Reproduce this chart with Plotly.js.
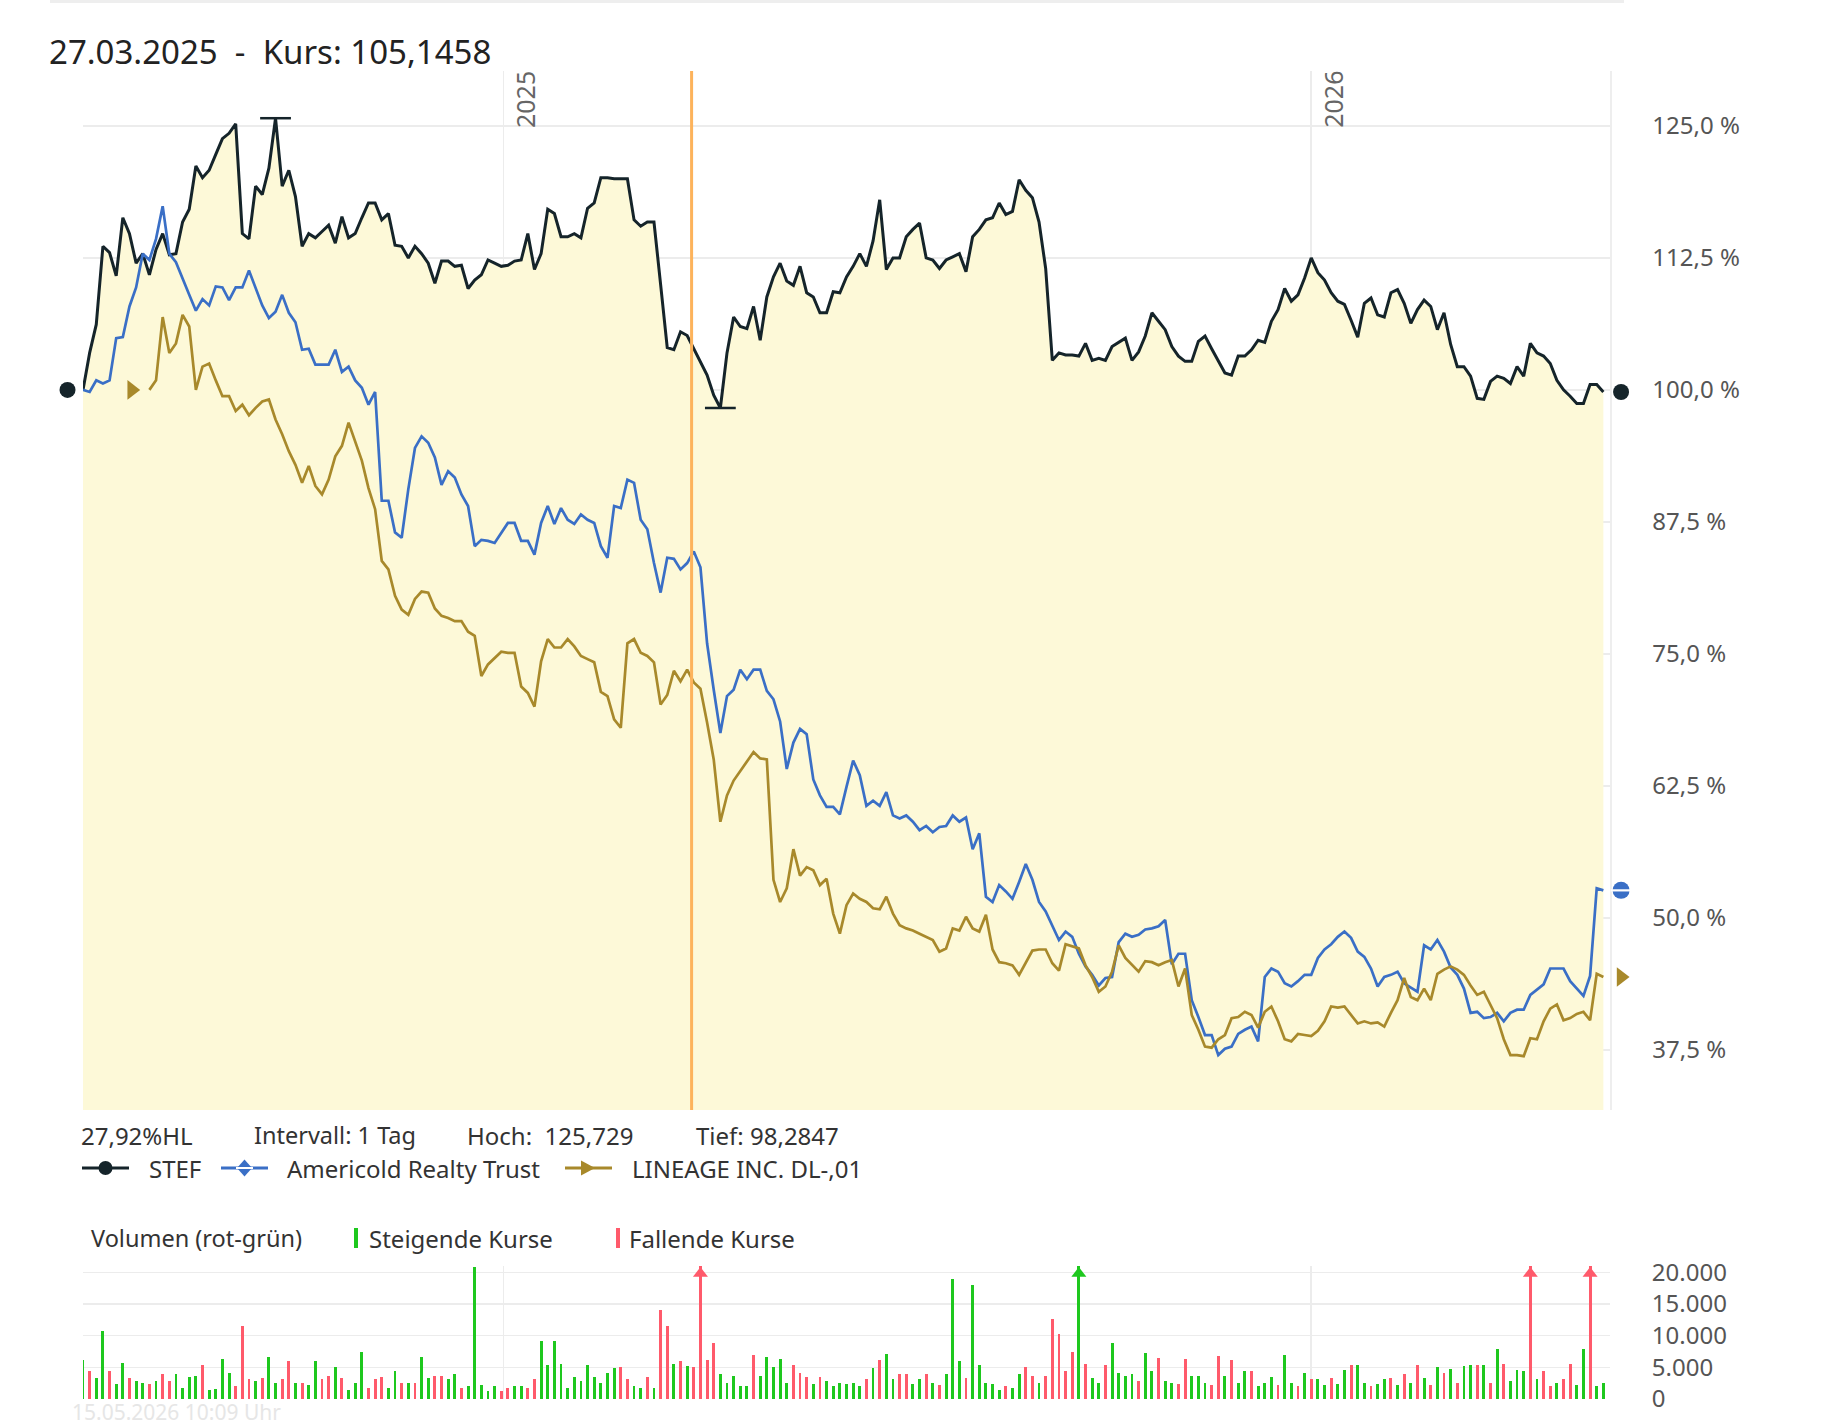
<!DOCTYPE html>
<html><head><meta charset="utf-8">
<script src="https://cdn.plot.ly/plotly-3.0.1.min.js"></script>
<style>html,body{margin:0;padding:0;background:#fff}#chart{width:1826px;height:1426px}</style>
</head><body><div id="chart"></div>
<script>
// ---------- data ----------
const startDate = [2024, 5, 25];   // 25.06.2024 (month 0-based)
const stepDays = 3;

const stef = [
100.0,103.5,106.2,113.6,113.0,110.8,116.3,114.8,112.0,112.9,
110.9,113.3,114.8,112.8,112.9,115.9,117.1,121.2,120.1,120.8,
122.3,123.8,124.3,125.2,114.8,114.3,119.3,118.5,121.0,125.729,
119.3,120.8,118.3,113.6,114.8,114.4,115.0,115.6,113.9,116.4,
114.4,114.8,116.3,117.7,117.7,116.1,116.7,113.7,113.6,112.5,
113.6,112.9,112.0,110.1,112.2,112.2,111.7,111.8,109.6,110.4,
110.9,112.3,112.0,111.7,111.8,112.2,112.3,114.8,111.4,112.9,
117.1,116.7,114.5,114.5,114.8,114.4,117.2,117.7,120.1,120.1,
120.0,120.0,120.0,116.1,115.5,115.9,115.9,110.0,104.0,103.8,
105.5,105.1458,103.9,102.8,101.4,99.5,98.2847,103.5,106.9,106.0,
105.8,107.9,104.7,108.8,110.7,112.0,110.3,109.9,111.7,109.2,
108.8,107.3,107.3,109.3,109.2,110.7,111.7,112.9,111.7,114.1,
118.0,111.4,112.5,112.5,114.5,115.2,115.8,112.5,112.3,111.5,
112.3,112.6,112.9,111.2,114.5,115.2,116.1,116.3,117.7,116.6,
116.9,119.9,118.9,118.2,115.9,111.5,102.8,103.5,103.3,103.3,
103.2,104.4,102.8,103.0,102.8,104.1,104.5,104.9,102.8,103.6,
105.1,107.3,106.5,105.7,104.1,103.2,102.7,102.7,104.6,105.1,
103.9,102.7,101.6,101.4,103.2,103.2,103.8,104.7,104.5,106.5,
107.6,109.6,108.4,109.0,110.6,112.5,111.1,110.4,109.2,108.4,
108.1,106.6,105.0,108.2,108.7,107.1,106.9,109.2,109.5,108.2,
106.3,107.6,108.5,107.9,105.7,107.3,104.3,102.2,102.2,101.3,
99.2,99.1,100.8,101.3,101.1,100.6,102.2,101.3,104.4,103.5,
103.2,102.5,100.9,100.0,99.4,98.7,98.7,100.5,100.5,99.8
];

const americold = [
100.0,99.8,100.9,100.6,100.9,104.9,105.0,107.9,109.7,112.9,
112.3,114.3,117.4,112.9,112.1,110.5,109.0,107.5,108.6,108.0,
109.8,109.7,108.5,109.7,109.7,111.3,109.7,108.0,106.8,107.4,
109.0,107.3,106.4,103.8,103.9,102.4,102.4,102.4,103.8,101.7,
102.2,100.9,100.2,98.6,99.8,89.5,89.5,86.5,86.0,90.6,
94.5,95.6,95.0,93.6,91.0,92.3,91.7,90.1,89.0,85.2,
85.8,85.7,85.5,86.5,87.4,87.4,85.7,85.7,84.4,87.4,
89.0,87.3,88.8,87.7,87.3,88.2,87.7,87.4,85.2,84.1,
89.0,88.8,91.5,91.2,87.7,86.8,83.6,80.8,84.1,84.0,
83.0,83.6,84.7,83.2,76.0,71.6,67.5,71.0,71.6,73.5,
72.6,73.5,73.5,71.5,70.7,68.6,64.1,66.6,67.9,67.4,
63.1,61.6,60.5,60.5,59.8,62.4,64.9,63.5,60.6,61.1,
60.6,61.9,59.7,59.4,59.7,59.1,58.3,58.7,58.1,58.6,
58.7,59.7,59.1,59.5,56.5,58.0,52.0,51.5,53.1,52.5,
51.8,53.4,55.1,53.6,51.5,50.6,49.3,47.9,48.7,48.2,
46.6,45.4,44.6,43.6,44.3,44.4,47.7,48.5,48.2,48.4,
48.9,49.0,49.2,49.8,45.6,46.6,46.6,42.2,40.6,38.9,
38.9,37.0,37.6,37.8,39.0,39.4,39.7,38.3,44.4,45.2,
44.9,43.8,43.5,44.0,44.6,44.6,46.2,47.0,47.5,48.2,
48.7,48.1,46.8,46.3,45.2,43.5,44.4,44.6,44.9,43.8,
43.4,43.0,47.4,47.0,47.9,46.8,45.3,44.6,43.3,41.0,
41.1,40.5,40.6,41.0,40.2,41.0,41.3,41.3,42.7,43.2,
43.7,45.2,45.2,45.2,44.0,43.3,42.6,44.5,52.8,52.6
];

const lineage = [
null,null,null,null,null,null,null,null,null,null,
100.0,100.9,106.9,103.5,104.4,107.1,106.0,100.0,102.2,102.5,
100.9,99.4,99.4,98.0,98.6,97.6,98.3,98.9,99.1,97.2,
95.8,94.2,92.9,91.2,92.8,90.9,90.1,91.5,93.7,94.7,
96.9,95.0,93.3,90.7,88.7,83.8,83.0,80.5,79.2,78.7,
80.2,80.9,80.8,79.3,78.6,78.4,78.1,78.1,77.1,76.7,
72.9,74.0,74.6,75.2,75.1,75.1,71.9,71.3,70.0,74.3,
76.4,75.6,75.6,76.4,75.7,74.8,74.5,74.2,71.4,71.0,
68.8,68.0,76.0,76.4,75.1,74.8,74.2,70.2,71.1,73.4,
72.4,73.5,72.3,71.7,68.5,65.0,59.1,61.6,63.0,63.9,
64.9,65.7,65.1,65.0,53.6,51.5,52.8,56.5,54.0,54.8,
54.5,53.1,53.7,50.4,48.5,51.2,52.3,51.8,51.5,50.9,
50.8,52.0,50.4,49.3,49.0,48.8,48.5,48.2,47.9,46.8,
47.1,49.0,48.8,50.1,49.0,48.7,50.3,47.0,45.8,45.7,
45.5,44.6,45.8,46.9,47.0,47.0,45.7,45.0,47.5,47.3,
47.1,45.5,44.4,43.0,43.5,44.9,47.4,46.2,45.5,44.9,
45.9,45.8,45.5,45.8,46.0,43.5,45.2,40.8,39.4,37.8,
37.7,38.5,38.9,40.5,40.6,41.1,40.8,39.6,41.1,41.6,
40.2,38.5,38.3,39.0,38.9,38.8,39.3,40.2,41.6,41.5,
41.6,40.8,40.0,40.2,40.0,40.1,39.7,41.0,42.2,44.3,
42.5,42.2,43.3,42.2,44.7,45.1,45.4,45.1,44.6,43.6,
42.7,43.0,41.8,40.5,38.5,37.0,37.0,36.9,38.6,38.5,
40.2,41.4,41.8,40.3,40.5,40.9,41.1,40.3,44.7,44.4
];

const volume = [
6200,4400,3300,10700,4400,2300,5700,3300,2800,2500,
2300,2800,3900,2800,3900,1800,3500,3600,5300,1500,
1600,6300,4100,2000,11600,3100,2900,3300,6600,2500,
3100,6000,2500,2500,2200,6000,3100,3600,5000,3300,
1500,2500,7500,1700,3100,3400,1700,4400,2500,2600,
2500,6600,3300,3700,3600,3200,4000,1700,2000,20900,
2200,1200,2000,1200,1700,2000,2000,1700,3100,9100,
5300,9100,5600,1700,3500,2800,5300,3500,2500,4100,
4900,5100,3100,2000,1800,3400,1700,14100,11600,5600,
6000,5200,5100,26000,6200,8800,4000,2500,3700,2100,
2100,6900,3700,6600,5100,6300,2600,5300,4100,3400,
2300,3500,2800,2100,2500,2300,2500,2000,3100,4900,
6200,7100,3100,4000,3900,2300,3100,4000,2500,2200,
3900,18900,6000,3300,18000,5400,2500,2300,1500,2000,
1700,4000,5100,3700,2600,3600,12600,10300,4400,7500,
24000,5500,3300,2500,5300,8800,4100,3600,3900,2800,
7200,4400,6500,2800,2500,2300,6300,3600,3600,2500,
2200,6800,3600,6200,2500,4400,4400,2000,2500,3500,
2200,6900,2500,2000,4100,3100,3100,2200,3300,2300,
4600,5300,5300,2500,2000,2300,3100,3300,2200,3900,
2500,5300,3300,2200,5000,4100,4800,2500,5200,5400,
5400,5400,2600,7900,5600,2800,4600,4400,25000,3100,
4400,2000,2500,3100,5600,2200,7900,25000,2000,2500
];
// g = steigender Kurs, r = fallender Kurs
const volDir = "grggrggrgg" + "rgrrggggrg" + "gggrrrgrgg" + "rrgrggrrgr" + "gggrrrggrg" +
               "rggrrggrgg" + "gggrrggrrg" + "gggggggggg" + "grrggrgrrg" + "rgrrrrgggg" +
               "grgggggrrr" + "grggggggrg" + "rggrrggrgr" + "gggrgggggr" + "ggrrgrrrrr" +
               "grggrggggr" + "ggrggrrggg" + "rrgrggrggg" + "rggrgrggrg" + "grggrggrgr" +
               "grgrgrgrgg" + "rgrgrgggrg" + "rrgrrggrgg";

const yTicks = [37.5, 50, 62.5, 75, 87.5, 100, 112.5, 125];
const volTicks = [0, 5000, 10000, 15000, 20000];
const yearTicks = ['2025-01-01', '2026-01-01'];
const yearLabels = ['2025', '2026'];
const cursorDate = '2025-03-27';
const cursorLabel = '27.03.2025';
const seriesNames = ['STEF', 'Americold Realty Trust', 'LINEAGE INC. DL-,01'];
const stampText = '15.05.2026 10:09 Uhr';

// ---------- helpers ----------
const W = 1826, H = 1426;
const X = px => px / W;
const Y = py => 1 - py / H;
const DAY = 86400000;
const t0 = Date.UTC(startDate[0], startDate[1], startDate[2]);
const dateAt = n => new Date(t0 + n * DAY).toISOString().slice(0, 10);
const dates = stef.map((_, i) => dateAt(i * stepDays));
const vDates = volume.map((_, i) => dateAt(i * stepDays));
const last = stef.length - 1;
const de = v => String(v).replace('.', ',');
const fmtPct = v => v.toFixed(1).replace('.', ',') + ' %';
const fmtVol = v => String(v).replace(/\B(?=(\d{3})+(?!\d))/g, '.');

const C_STEF = '#15242a', C_AM = '#3a6fc6', C_LIN = '#a8892b';
const C_UP = '#1ec81e', C_DN = '#ff5a6b';

const maxV = Math.max(...stef), minV = Math.min(...stef);
const iMax = stef.indexOf(maxV), iMin = stef.indexOf(minV);
const hl = ((maxV - minV) / minV * 100).toFixed(2).replace('.', ',');
let iCur = 0; dates.forEach((d, i) => { if (d <= cursorDate) iCur = i; });
const linFirst = lineage.findIndex(v => v !== null);

// plot-area pixel geometry
const PX_L = 83, PX_R = 1610, PX_T = 71, PX_B = 1110;
const rangeStartMs = t0, rangeEndMs = t0 + (last * stepDays + 3) * DAY;
const xRange = [new Date(rangeStartMs).toISOString(), new Date(rangeEndMs).toISOString()];
const msPerPx = (rangeEndMs - rangeStartMs) / (PX_R - PX_L);
// wider overlay axis for the start/end markers which sit outside the plot area
const OV_L = 46, OV_R = 1646;
const xRangeOv = [new Date(rangeStartMs - (PX_L - OV_L) * msPerPx).toISOString(),
                  new Date(rangeEndMs + (OV_R - PX_R) * msPerPx).toISOString()];
const yRange = [31.8, 130.2];
const VOLMAX = 21000;
const endOff = last * stepDays + 8;

// ---------- traces ----------
const traces = [
  {x: dates, y: stef, type: 'scatter', mode: 'lines', line: {color: C_STEF, width: 3},
   fill: 'tozeroy', fillcolor: '#fdf9d8', xaxis: 'x', yaxis: 'y', hoverinfo: 'skip'},
  {x: dates, y: americold, type: 'scatter', mode: 'lines', line: {color: C_AM, width: 2.7},
   xaxis: 'x', yaxis: 'y', hoverinfo: 'skip'},
  {x: dates, y: lineage, type: 'scatter', mode: 'lines', line: {color: C_LIN, width: 2.7},
   xaxis: 'x', yaxis: 'y', hoverinfo: 'skip'},
  // high / low markers
  {x: [dates[iMax], dates[iMin]], y: [maxV, minV], type: 'scatter', mode: 'markers',
   marker: {symbol: 'line-ew', size: 22, line: {color: C_STEF, width: 2.5}}, xaxis: 'x', yaxis: 'y', hoverinfo: 'skip'},
  // start / end markers (overlay axis x3/y3)
  {x: [dateAt(-7), dateAt(endOff)], y: [stef[0], stef[last]], type: 'scatter', mode: 'markers',
   marker: {symbol: 'circle', size: 16, color: C_STEF}, xaxis: 'x3', yaxis: 'y3', hoverinfo: 'skip'},
  {x: [dateAt(endOff)], y: [americold[last]], type: 'scatter', mode: 'markers',
   marker: {symbol: 'circle', size: 17, color: C_AM}, xaxis: 'x3', yaxis: 'y3', hoverinfo: 'skip'},
  {x: [dateAt(endOff)], y: [americold[last]], type: 'scatter', mode: 'markers',
   marker: {symbol: 'line-ew', size: 15, line: {color: '#ffffff', width: 2.2}}, xaxis: 'x3', yaxis: 'y3', hoverinfo: 'skip'},
  {x: [dateAt(linFirst * stepDays - 8), dateAt(endOff)], y: [lineage[linFirst], lineage[last]],
   type: 'scatter', mode: 'markers', marker: {symbol: 'triangle-right', size: 17, color: C_LIN},
   xaxis: 'x3', yaxis: 'y3', hoverinfo: 'skip'},
  // volume
  {x: vDates, y: volume, type: 'bar', width: 1.3 * DAY,
   marker: {color: volDir.split('').map(c => c === 'g' ? C_UP : C_DN), line: {width: 0}},
   xaxis: 'x2', yaxis: 'y2', hoverinfo: 'skip'}
];
// arrows for clipped volume bars
const clipIdx = volume.map((v, i) => v > VOLMAX ? i : -1).filter(i => i >= 0);
traces.push({x: clipIdx.map(i => vDates[i]), y: clipIdx.map(() => VOLMAX * 0.943), type: 'scatter', mode: 'markers',
  marker: {symbol: 'triangle-up', size: 13, color: clipIdx.map(i => volDir[i] === 'g' ? C_UP : C_DN)},
  cliponaxis: false, xaxis: 'x2', yaxis: 'y2', hoverinfo: 'skip'});

// ---------- layout ----------
const FONT = 'Noto Sans, Open Sans, DejaVu Sans, sans-serif';
const xDom = [X(PX_L), X(PX_R)];
const mainDom = [Y(PX_B), Y(PX_T)];
const volDom = [Y(1399), Y(1266)];

function txt(text, px, py, o) {
  return Object.assign({text: text, xref: 'paper', yref: 'paper', x: X(px), y: Y(py), xanchor: 'left',
    yanchor: 'middle', showarrow: false, font: {family: FONT, size: 24, color: '#333'}}, o || {});
}
const annotations = [
  txt(cursorLabel + '\u00a0\u00a0-\u00a0\u00a0Kurs: ' + de(stef[iCur]), 47, 51, {font: {family: FONT, size: 33, color: '#222'}}),
  txt(hl + '%HL', 79, 1135),
  txt('Intervall: 1 Tag', 252, 1135, {font: {family: FONT, size: 23.5, color: '#333'}}),
  txt('Hoch:\u00a0 ' + de(maxV), 465, 1135),
  txt('Tief: ' + de(minV), 694, 1135),
  txt(seriesNames[0], 147, 1168),
  txt(seriesNames[1], 285, 1168),
  txt(seriesNames[2], 630, 1168),
  txt('Volumen (rot-grün)', 89, 1238, {font: {family: FONT, size: 23.5, color: '#333'}}),
  txt('Steigende Kurse', 367, 1238),
  txt('Fallende Kurse', 627, 1238),
  txt(stampText, 70, 1412, {font: {family: FONT, size: 21, color: '#e6e6e6'}})
];
yearTicks.forEach((d, k) => annotations.push({text: yearLabels[k], xref: 'x', yref: 'paper', x: d, y: Y(69),
  xanchor: 'left', yanchor: 'top', xshift: 3, textangle: -90, showarrow: false,
  font: {family: FONT, size: 25, color: '#666'}}));

function line(x0, x1, py, color, w) {
  return {type: 'line', xref: 'paper', yref: 'paper', x0: X(x0), x1: X(x1), y0: Y(py), y1: Y(py), line: {color: color, width: w}};
}
function path(pts, color) {
  return {type: 'path', xref: 'paper', yref: 'paper', fillcolor: color, line: {width: 0},
    path: 'M ' + pts.map(p => X(p[0]) + ',' + Y(p[1])).join(' L ') + ' Z'};
}
const ly = 1168;
const shapes = [
  {type: 'rect', xref: 'paper', yref: 'paper', x0: X(50), x1: X(1624), y0: Y(3), y1: Y(0), fillcolor: '#eeeeee', line: {width: 0}},
  {type: 'line', xref: 'x', yref: 'paper', x0: cursorDate, x1: cursorDate, y0: mainDom[0], y1: mainDom[1],
   line: {color: '#fdb35b', width: 3}},
  // legend symbols
  line(82, 129, ly, C_STEF, 3),
  {type: 'circle', xref: 'paper', yref: 'paper', x0: X(98.5), x1: X(112.5), y0: Y(ly + 7), y1: Y(ly - 7), fillcolor: C_STEF, line: {width: 0}},
  line(221, 268, ly, C_AM, 3),
  path([[244.5, ly - 8.5], [252, ly], [244.5, ly + 8.5], [237, ly]], C_AM),
  line(236, 253, ly, '#ffffff', 2),
  line(565, 612, ly, C_LIN, 3),
  path([[581, ly - 7.5], [595, ly], [581, ly + 7.5]], C_LIN),
  // volume legend bars
  {type: 'rect', xref: 'paper', yref: 'paper', x0: X(354), x1: X(358), y0: Y(1248), y1: Y(1228), fillcolor: C_UP, line: {width: 0}},
  {type: 'rect', xref: 'paper', yref: 'paper', x0: X(616), x1: X(620), y0: Y(1248), y1: Y(1228), fillcolor: C_DN, line: {width: 0}}
];

const grid = '#ececec';
const tickFont = {family: FONT, size: 24, color: '#555'};
const layout = {
  width: W, height: H, margin: {l: 0, r: 0, t: 0, b: 0},
  paper_bgcolor: '#ffffff', plot_bgcolor: 'rgba(0,0,0,0)', showlegend: false,
  font: {family: FONT, color: '#333'},
  xaxis: {domain: xDom, type: 'date', range: xRange, tickvals: yearTicks, showticklabels: false, ticks: '',
          showgrid: true, gridcolor: grid, gridwidth: 1.5, zeroline: false, showline: false, anchor: 'y'},
  yaxis: {domain: mainDom, range: yRange, side: 'right', anchor: 'x', tickmode: 'array', tickvals: yTicks,
          ticktext: yTicks.map(fmtPct), ticks: 'outside', ticklen: 36, tickcolor: 'rgba(0,0,0,0)', tickfont: tickFont,
          showgrid: true, gridcolor: grid, gridwidth: 1.5, zeroline: false, showline: true, linecolor: '#eeeeee', linewidth: 1.5},
  xaxis2: {domain: xDom, type: 'date', range: xRange, tickvals: yearTicks, showticklabels: false, ticks: '',
           showgrid: true, gridcolor: grid, gridwidth: 1.5, zeroline: false, showline: false, anchor: 'y2'},
  yaxis2: {domain: volDom, range: [0, VOLMAX], side: 'right', anchor: 'x2', tickmode: 'array', tickvals: volTicks,
           ticktext: volTicks.map(fmtVol), ticks: 'outside', ticklen: 36, tickcolor: 'rgba(0,0,0,0)', tickfont: tickFont,
           showgrid: true, gridcolor: grid, gridwidth: 1.5, zeroline: false, showline: false},
  xaxis3: {domain: [X(OV_L), X(OV_R)], type: 'date', range: xRangeOv, visible: false, anchor: 'y3'},
  yaxis3: {domain: mainDom, range: yRange, visible: false, anchor: 'x3'},
  bargap: 0,
  shapes: shapes,
  annotations: annotations
};

Plotly.newPlot('chart', traces, layout, {displayModeBar: false, staticPlot: true});
</script>
</body></html>
